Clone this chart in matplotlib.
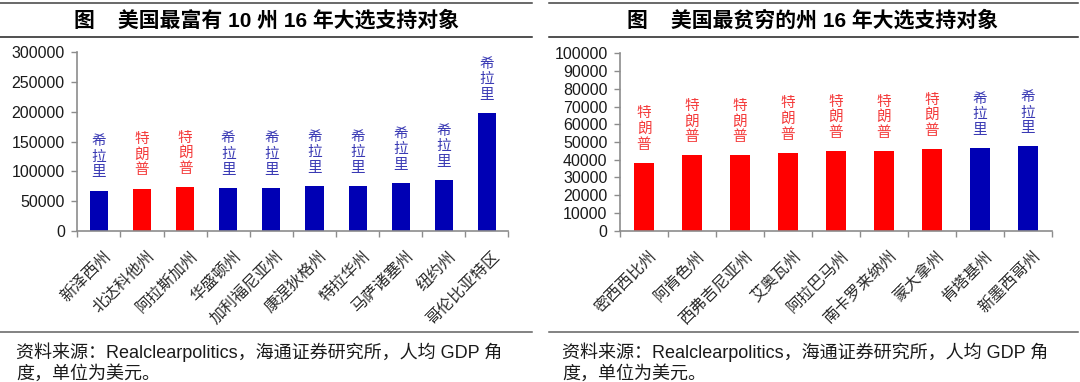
import matplotlib
matplotlib.use('Agg')
import matplotlib.pyplot as plt
from matplotlib.lines import Line2D
from matplotlib.transforms import ScaledTranslation

plt.rcParams['font.family'] = ['Liberation Sans', 'Noto Sans CJK SC']
cjk = ['Noto Sans CJK SC', 'DejaVu Sans']

# 最富有10州
rich_states = ['新泽西州', '北达科他州', '阿拉斯加州', '华盛顿州', '加利福尼亚州',
               '康涅狄格州', '特拉华州', '马萨诸塞州', '纽约州', '哥伦比亚特区']
rich_gdp = [68000, 71400, 74000, 72800, 72800, 75600, 75600, 80700, 85700, 198300]
rich_vote = ['希拉里', '特朗普', '特朗普', '希拉里', '希拉里',
             '希拉里', '希拉里', '希拉里', '希拉里', '希拉里']

# 最贫穷的州
poor_states = ['密西西比州', '阿肯色州', '西弗吉尼亚州', '艾奥瓦州', '阿拉巴马州',
               '南卡罗来纳州', '蒙大拿州', '肯塔基州', '新墨西哥州']
poor_gdp = [38300, 42500, 42500, 44000, 44900, 44900, 46100, 46600, 47600]
poor_vote = ['特朗普', '特朗普', '特朗普', '特朗普', '特朗普',
             '特朗普', '特朗普', '希拉里', '希拉里']

bar_col = {'希拉里': '#0000B4', '特朗普': '#FF0000'}
txt_col = {'希拉里': '#3A3AB4', '特朗普': '#F43C3C'}

fig = plt.figure(figsize=(10.8, 3.82), dpi=100)


def draw(ax, states, gdp, vote, ymax, ystep, lab_dx):
    x = list(range(len(states)))
    ax.bar(x, gdp, width=0.42, color=[bar_col[v] for v in vote])
    for i, v in enumerate(gdp):
        ax.annotate('\n'.join(vote[i]), (i, v), xytext=(0, 8), textcoords='offset points',
                    ha='center', va='bottom', fontsize=10.5, family=cjk,
                    color=txt_col[vote[i]], linespacing=1.15)
    ax.set_xlim(-0.5, len(states) - 0.5)
    ax.set_ylim(0, ymax)
    ax.set_yticks(range(0, ymax + 1, ystep))
    for s in ['top', 'right']:
        ax.spines[s].set_visible(False)
    for s in ['left', 'bottom']:
        ax.spines[s].set_color('#8C8C8C')
        ax.spines[s].set_linewidth(1.2)
    ax.tick_params(axis='y', direction='out', length=4, width=1, color='#8C8C8C',
                   labelsize=11.5, labelcolor='#1A1A1A', pad=5)
    ax.set_xticks(x)
    ax.set_xticks([k - 0.5 for k in range(len(states) + 1)], minor=True)
    ax.tick_params(axis='x', which='major', length=0, pad=12)
    ax.tick_params(axis='x', which='minor', direction='out', length=4, width=1, color='#8C8C8C')
    ax.set_xticklabels(states, rotation=45, ha='right', va='top', rotation_mode='anchor',
                       fontsize=11.5, family=cjk, color='#2A2A2A')
    off = ScaledTranslation(lab_dx / 100, 0, fig.dpi_scale_trans)
    for lab in ax.get_xticklabels():
        lab.set_transform(lab.get_transform() + off)


ax1 = fig.add_axes([0.0716, 0.3953, 0.3992, 0.4673])
draw(ax1, rich_states, rich_gdp, rich_vote, 300000, 50000, 4)

ax2 = fig.add_axes([0.5741, 0.3961, 0.3997, 0.4644])
draw(ax2, poor_states, poor_gdp, poor_vote, 100000, 10000, 4)

# 标题和分隔线
fig.text(0.247, 0.9476, '图    美国最富有 10 州 16 年大选支持对象', ha='center', va='center',
         fontsize=15, fontweight='bold', family=['Liberation Sans', 'Noto Sans CJK SC'])
fig.text(0.752, 0.9476, '图    美国最贫穷的州 16 年大选支持对象', ha='center', va='center',
         fontsize=15, fontweight='bold', family=['Liberation Sans', 'Noto Sans CJK SC'])

for x0, x1 in [(0.0, 0.4926), (0.5083, 0.998)]:
    fig.add_artist(Line2D([x0, x1], [0.9914, 0.9914], color='#404040', lw=1.1))
    fig.add_artist(Line2D([x0, x1], [0.9024, 0.9024], color='#202020', lw=1.1))
    fig.add_artist(Line2D([x0, x1], [0.1317, 0.1317], color='#606060', lw=1.1))

src1 = '资料来源：Realclearpolitics，海通证券研究所，人均 GDP 角'
src2 = '度，单位为美元。'
for x0 in [0.0148, 0.5208]:
    fig.text(x0, 0.0767, src1, ha='left', va='center', fontsize=13, color='#1A1A1A')
    fig.text(x0, 0.0217, src2, ha='left', va='center', fontsize=13, color='#1A1A1A')

fig.savefig('out.png', dpi=100)
